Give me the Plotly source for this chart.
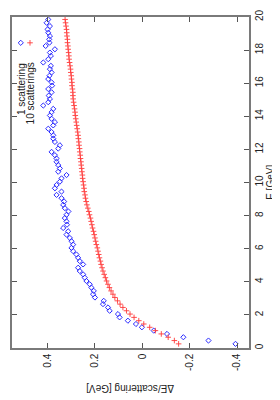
import plotly.graph_objects as go

# Energy grid (GeV) shared by both series
energy = [0.25, 0.45, 0.65, 0.85, 1.05, 1.25, 1.45, 1.65, 1.85, 2.05,
          2.25, 2.45, 2.65, 2.85, 3.05, 3.25, 3.45, 3.65, 3.85, 4.05,
          4.25, 4.45, 4.65, 4.85, 5.05, 5.25, 5.45, 5.65, 5.85, 6.05,
          6.25, 6.45, 6.65, 6.85, 7.05, 7.25, 7.45, 7.65, 7.85, 8.05,
          8.25, 8.45, 8.65, 8.85, 9.05, 9.25, 9.45, 9.65, 9.85, 10.05,
          10.25, 10.45, 10.65, 10.85, 11.05, 11.25, 11.45, 11.65, 11.85, 12.05,
          12.25, 12.45, 12.65, 12.85, 13.05, 13.25, 13.45, 13.65, 13.85, 14.05,
          14.25, 14.45, 14.65, 14.85, 15.05, 15.25, 15.45, 15.65, 15.85, 16.05,
          16.25, 16.45, 16.65, 16.85, 17.05, 17.25, 17.45, 17.65, 17.85, 18.05,
          18.25, 18.45, 18.65, 18.85, 19.05, 19.25, 19.45, 19.65, 19.85]

# dE per scattering (GeV), 1 scattering
de_1 = [-0.393, -0.279, -0.173, -0.104, -0.048, 0.002, 0.027, 0.061, 0.096, 0.103,
        0.138, 0.145, 0.166, 0.163, 0.200, 0.208, 0.205, 0.215, 0.222, 0.236,
        0.243, 0.250, 0.264, 0.271, 0.250, 0.264, 0.271, 0.278, 0.292, 0.299,
        0.292, 0.299, 0.306, 0.320, 0.313, 0.334, 0.318, 0.320, 0.327, 0.320,
        0.312, 0.327, 0.334, 0.330, 0.341, 0.362, 0.341, 0.369, 0.362, 0.348,
        0.341, 0.320, 0.355, 0.348, 0.355, 0.362, 0.362, 0.369, 0.383, 0.355,
        0.348, 0.369, 0.376, 0.376, 0.383, 0.397, 0.376, 0.369, 0.383, 0.390,
        0.383, 0.376, 0.418, 0.397, 0.390, 0.395, 0.383, 0.397, 0.381, 0.383,
        0.397, 0.392, 0.383, 0.390, 0.386, 0.418, 0.397, 0.386, 0.390, 0.369,
        0.408, 0.392, 0.393, 0.390, 0.397, 0.400, 0.390, 0.404, 0.397]

# dE per scattering (GeV), 10 scatterings
de_10 = [-0.153, -0.135, -0.109, -0.080, -0.055, -0.031, -0.006, 0.015, 0.035, 0.052,
         0.067, 0.082, 0.094, 0.105, 0.116, 0.124, 0.132, 0.139, 0.145, 0.151,
         0.156, 0.161, 0.166, 0.170, 0.174, 0.177, 0.181, 0.184, 0.187, 0.190,
         0.194, 0.197, 0.200, 0.203, 0.206, 0.210, 0.213, 0.216, 0.219, 0.223,
         0.226, 0.230, 0.234, 0.237, 0.240, 0.242, 0.245, 0.246, 0.248, 0.250,
         0.252, 0.253, 0.255, 0.256, 0.258, 0.259, 0.261, 0.262, 0.264, 0.265,
         0.267, 0.268, 0.270, 0.271, 0.273, 0.275, 0.277, 0.279, 0.281, 0.283,
         0.284, 0.286, 0.288, 0.290, 0.292, 0.293, 0.293, 0.295, 0.297, 0.297,
         0.299, 0.300, 0.302, 0.303, 0.305, 0.307, 0.309, 0.310, 0.311, 0.313,
         0.314, 0.316, 0.316, 0.318, 0.319, 0.320, 0.322, 0.324, 0.326]

de_ticks = [-0.4, -0.2, 0, 0.2, 0.4]
de_ticktext = ["-0.4", "-0.2", "0", "0.2", "0.4"]
e_ticks = [0, 2, 4, 6, 8, 10, 12, 14, 16, 18, 20]

series_names = ["1 scattering", "10 scatterings"]
BLUE = "#2a2aff"
RED = "#ff3a3a"
FRAME = "#7a7a7a"
FONT = "Liberation Sans, Arial, sans-serif"

fig = go.Figure()
fig.add_trace(go.Scatter(
    x=de_1, y=energy, mode="markers", name=series_names[0],
    marker=dict(symbol="diamond-open", size=4, color=BLUE, line=dict(width=1, color=BLUE)),
    showlegend=False, cliponaxis=True))
fig.add_trace(go.Scatter(
    x=de_10, y=energy, mode="markers", name=series_names[1],
    marker=dict(symbol="cross-thin", size=4, color=RED, line=dict(width=0.9, color=RED)),
    showlegend=False, cliponaxis=True))

# legend keys (rotated legend) on an auxiliary unit axis pair
fig.add_trace(go.Scatter(
    x=[0.037], y=[0.922], xaxis="x2", yaxis="y2", mode="markers", showlegend=False,
    marker=dict(symbol="diamond-open", size=4, color=BLUE, line=dict(width=1, color=BLUE))))
fig.add_trace(go.Scatter(
    x=[0.076], y=[0.922], xaxis="x2", yaxis="y2", mode="markers", showlegend=False,
    marker=dict(symbol="cross-thin", size=4, color=RED, line=dict(width=0.9, color=RED))))

axis_common = dict(
    ticks="inside", ticklen=5, tickwidth=1, tickcolor="#555555",
    showline=True, linecolor=FRAME, linewidth=1.5, mirror="ticks",
    showgrid=False, zeroline=False, automargin=False,
    tickfont=dict(family=FONT, size=10, color="#222222"),
    tickangle=-90,
)

# the page body has an 8px default margin, so the figure is 272x392 inside the 280x400 window
fig.update_layout(
    width=272, height=392,
    margin=dict(l=4, r=31, t=9, b=52),
    paper_bgcolor="white", plot_bgcolor="white",
    xaxis=dict(range=[0.55, -0.45], tickvals=de_ticks, ticktext=de_ticktext, **axis_common),
    yaxis=dict(range=[0, 20], tickvals=e_ticks, side="right", **axis_common),
    xaxis2=dict(range=[0, 1], overlaying="x", visible=False, anchor="y2"),
    yaxis2=dict(range=[0, 1], overlaying="y", visible=False, anchor="x2"),
    showlegend=False,
    annotations=[
        dict(text="ΔE/scattering [GeV]", xref="paper", yref="paper", x=0.5, y=-0.124,
             textangle=180, showarrow=False, xanchor="center", yanchor="middle",
             font=dict(family=FONT, size=10, color="#222222")),
        dict(text="E [GeV]", xref="paper", yref="paper", x=1.09, y=0.5,
             textangle=-90, showarrow=False, xanchor="center", yanchor="middle",
             font=dict(family=FONT, size=10, color="#222222")),
        dict(text=series_names[0], xref="paper", yref="paper", x=0.040, y=0.784,
             textangle=-90, showarrow=False, xanchor="center", yanchor="middle",
             font=dict(family=FONT, size=10, color="#222222")),
        dict(text=series_names[1], xref="paper", yref="paper", x=0.080, y=0.769,
             textangle=-90, showarrow=False, xanchor="center", yanchor="middle",
             font=dict(family=FONT, size=10, color="#222222")),
    ],
)

fig.write_html("out.html")
